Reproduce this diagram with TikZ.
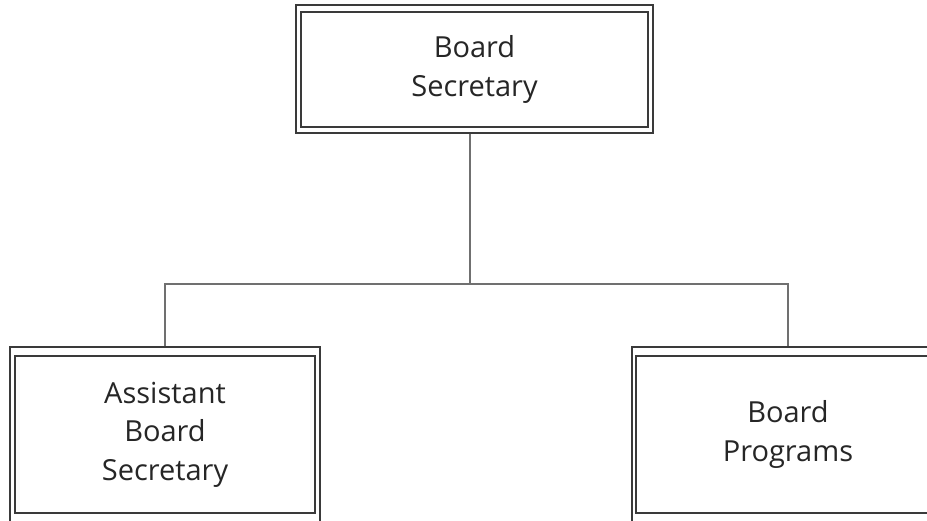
\documentclass[tikz,border=0pt]{standalone}
\usepackage{fontspec}
\setmainfont{Open Sans}
\usetikzlibrary{calc}
\definecolor{boxline}{HTML}{3A3A3A}
\definecolor{connline}{HTML}{707070}
\definecolor{txt}{HTML}{262626}
\begin{document}
\begin{tikzpicture}[x=1pt,y=1pt,
  inner/.style={draw=boxline, line width=1.8pt, fill=white, align=center,
    text=txt, font=\fontsize{29}{38.5}\selectfont, inner sep=0pt},
  outer/.style={draw=boxline, line width=1.4pt, inner sep=0pt},
  conn/.style={draw=connline, line width=1.5pt}]
\useasboundingbox (0,0) rectangle (927,520);
\clip (0,0) rectangle (927,520);
\fill[white] (0,0) rectangle (927,520);

% outer frames
\node[outer, minimum width=357pt, minimum height=128pt] (topo) at (474.5,451) {};
\node[outer, minimum width=310pt, minimum height=175pt] (asso) at (165,85.5) {};
\node[outer, minimum width=312pt, minimum height=175pt] (progo) at (788,85.5) {};

% inner boxes with text
\node[inner, minimum width=347pt, minimum height=115pt] (top) at (474.5,450.5) {Board\\Secretary};
\node[inner, minimum width=300pt, minimum height=157pt] (asst) at (165,85.5) {Assistant\\Board\\Secretary};
\node[inner, minimum width=304pt, minimum height=157pt] (prog) at (788,85.5) {Board\\Programs};

% connectors
\coordinate (bus) at (470,236);
\draw[conn] (topo.south -| bus) -- (bus);
\draw[conn] (asso.north) |- (bus) -| (progo.north);
\end{tikzpicture}
\end{document}
